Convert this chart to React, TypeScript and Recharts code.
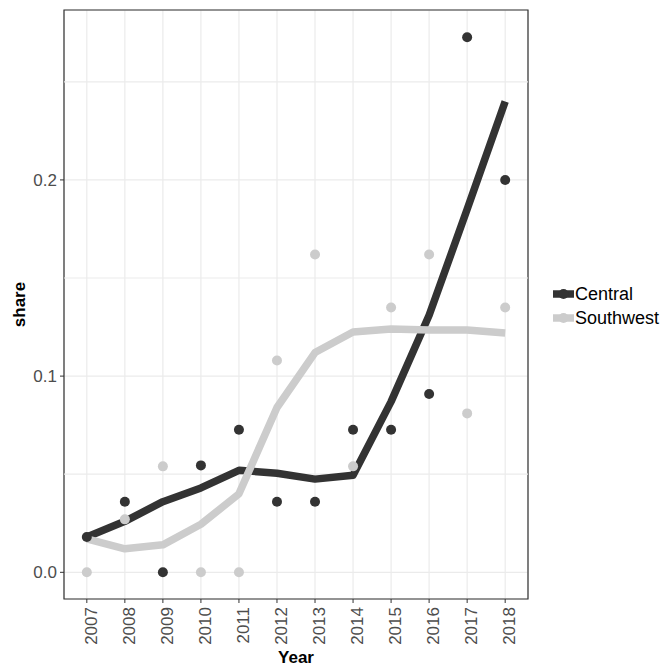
import React from "react";
import {
  ComposedChart,
  Line,
  XAxis,
  YAxis,
  CartesianGrid,
  ReferenceLine,
  ReferenceArea,
} from "recharts";

const years = [2007, 2008, 2009, 2010, 2011, 2012, 2013, 2014, 2015, 2016, 2017, 2018];
const centralPoints = [0.018, 0.036, 0, 0.0545, 0.0727, 0.036, 0.036, 0.0727, 0.0727, 0.0909, 0.2727, 0.2];
const southwestPoints = [0, 0.027, 0.054, 0, 0, 0.108, 0.162, 0.054, 0.135, 0.162, 0.081, 0.135];
const centralFit = [0.018, 0.026, 0.036, 0.043, 0.052, 0.0505, 0.0475, 0.0495, 0.087, 0.131, 0.185, 0.240];
const southwestFit = [0.017, 0.012, 0.014, 0.0245, 0.040, 0.084, 0.112, 0.1225, 0.124, 0.1235, 0.1235, 0.122];
const yTicks = [0, 0.1, 0.2];
const yMinorTicks = [0.05, 0.15, 0.25];
const seriesNames = ["Central", "Southwest"];

const DARK = "#333333";
const LIGHT = "#cccccc";
const FONT = '"Liberation Sans", Arial, Helvetica, sans-serif';

const X_DOMAIN: [number, number] = [2006.4, 2018.6];
const Y_DOMAIN: [number, number] = [-0.0136, 0.2866];

const data = years.map((year, i) => ({
  year,
  centralPt: centralPoints[i],
  southwestPt: southwestPoints[i],
  centralFit: centralFit[i],
  southwestFit: southwestFit[i],
}));

const makeDot = (color: string) => (props: any) => {
  const { cx, cy, key } = props;
  if (cx == null || cy == null) return <g key={key} />;
  return <circle key={key} cx={cx} cy={cy} r={5} fill={color} stroke="none" />;
};

const XTick = (props: any) => {
  const { x, y, payload } = props;
  const px = x + 10;
  const py = y + 2;
  return (
    <text
      x={px}
      y={py}
      transform={`rotate(-90, ${px}, ${py})`}
      textAnchor="end"
      fontSize={17}
      fill="#4d4d4d"
      fontFamily={FONT}
    >
      {payload.value}
    </text>
  );
};

const YTick = (props: any) => {
  const { x, y, payload } = props;
  return (
    <text
      x={x}
      y={y}
      dy={6}
      textAnchor="end"
      fontSize={17}
      fill="#4d4d4d"
      fontFamily={FONT}
    >
      {Number(payload.value).toFixed(1)}
    </text>
  );
};

const LegendBox = () => {
  const colors = [DARK, LIGHT];
  return (
    <div
      style={{
        position: "absolute",
        left: 553,
        top: 282,
        fontFamily: FONT,
        fontSize: 18,
        color: "#000",
      }}
    >
      {seriesNames.map((name, i) => (
        <div
          key={name}
          style={{ display: "flex", alignItems: "center", height: 24, lineHeight: "24px" }}
        >
          <svg width={21} height={12} style={{ marginRight: 1 }}>
            <line x1={0} y1={6} x2={21} y2={6} stroke={colors[i]} strokeWidth={7.5} />
            <circle cx={10.5} cy={6} r={5} fill={colors[i]} />
          </svg>
          <span>{name}</span>
        </div>
      ))}
    </div>
  );
};

export default function App() {
  return (
    <div style={{ position: "absolute", left: 0, top: 0, width: 665, height: 671, background: "#fff" }}>
      <ComposedChart
        width={665}
        height={671}
        data={data}
        margin={{ top: 10, right: 137, bottom: 0, left: 0 }}
        style={{ fontFamily: FONT }}
      >
        <CartesianGrid stroke="#ebebeb" strokeWidth={1.2} />
        {yMinorTicks.map((v) => (
          <ReferenceLine key={v} y={v} stroke="#ebebeb" strokeWidth={1.2} ifOverflow="extendDomain" />
        ))}
        <XAxis
          dataKey="year"
          type="number"
          domain={X_DOMAIN}
          ticks={years}
          allowDataOverflow
          interval={0}
          height={72}
          axisLine={false}
          tickLine={{ stroke: DARK }}
          tickSize={4}
          tick={<XTick />}
          label={(p: any) => {
            const vb = p.viewBox;
            return (
              <text
                x={vb.x + vb.width / 2}
                y={663}
                textAnchor="middle"
                fontSize={17}
                fontWeight="bold"
                fill="#000"
                fontFamily={FONT}
              >
                Year
              </text>
            );
          }}
        />
        <YAxis
          type="number"
          domain={Y_DOMAIN}
          ticks={yTicks}
          allowDataOverflow
          width={64}
          axisLine={false}
          tickLine={{ stroke: DARK }}
          tickSize={4}
          tickMargin={3}
          tick={<YTick />}
          label={(p: any) => {
            const vb = p.viewBox;
            const cy = vb.y + vb.height / 2;
            return (
              <text
                x={25}
                y={cy}
                transform={`rotate(-90, 25, ${cy})`}
                textAnchor="middle"
                fontSize={17}
                fontWeight="bold"
                fill="#000"
                fontFamily={FONT}
              >
                share
              </text>
            );
          }}
        />
        <Line
          dataKey="southwestPt"
          stroke="none"
          dot={makeDot(LIGHT)}
          activeDot={false}
          isAnimationActive={false}
          legendType="none"
        />
        <Line
          dataKey="centralPt"
          stroke="none"
          dot={makeDot(DARK)}
          activeDot={false}
          isAnimationActive={false}
          legendType="none"
        />
        <Line
          dataKey="centralFit"
          type="linear"
          stroke={DARK}
          strokeWidth={7.5}
          strokeLinejoin="round"
          strokeLinecap="butt"
          dot={false}
          activeDot={false}
          isAnimationActive={false}
        />
        <Line
          dataKey="southwestFit"
          type="linear"
          stroke={LIGHT}
          strokeWidth={7.5}
          strokeLinejoin="round"
          strokeLinecap="butt"
          dot={false}
          activeDot={false}
          isAnimationActive={false}
        />
        <ReferenceArea
          x1={X_DOMAIN[0]}
          x2={X_DOMAIN[1]}
          y1={Y_DOMAIN[0]}
          y2={Y_DOMAIN[1]}
          fill="none"
          stroke={DARK}
          strokeWidth={1.2}
          ifOverflow="visible"
        />
      </ComposedChart>
      <LegendBox />
    </div>
  );
}
